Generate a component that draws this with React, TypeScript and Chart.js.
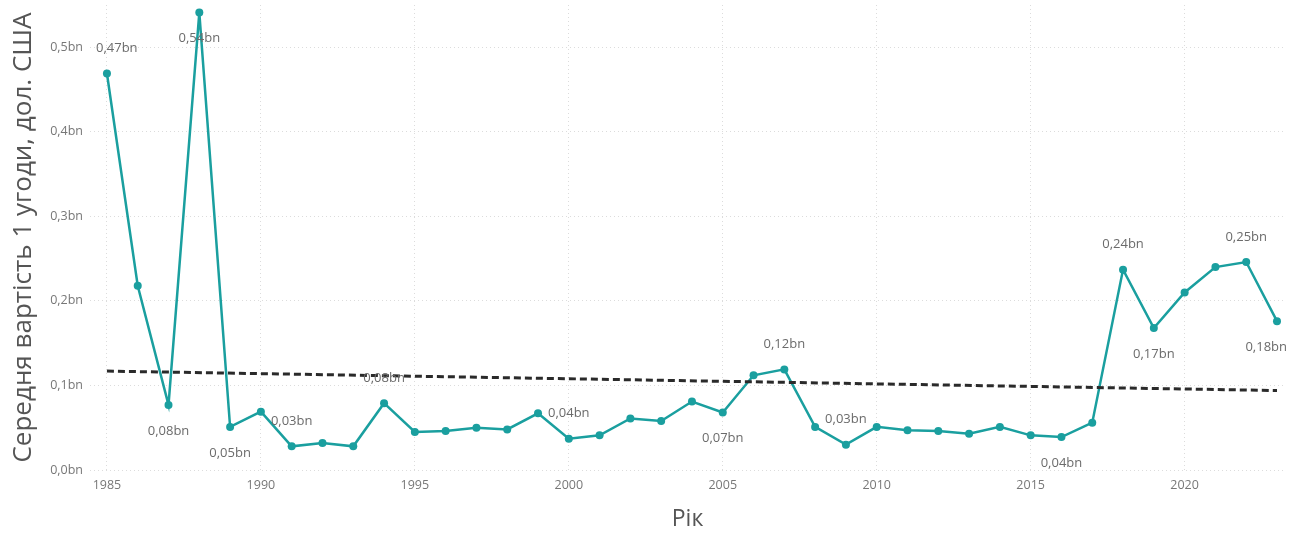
import React, { useEffect, useRef } from "react";
import { Chart, registerables } from "chart.js";

Chart.register(...registerables);

const years: number[] = [
  1985, 1986, 1987, 1988, 1989, 1990, 1991, 1992, 1993, 1994, 1995, 1996, 1997,
  1998, 1999, 2000, 2001, 2002, 2003, 2004, 2005, 2006, 2007, 2008, 2009, 2010,
  2011, 2012, 2013, 2014, 2015, 2016, 2017, 2018, 2019, 2020, 2021, 2022, 2023,
];

const avgDealValue: number[] = [
  0.469, 0.218, 0.077, 0.541, 0.051, 0.069, 0.028, 0.032, 0.028, 0.079, 0.045,
  0.046, 0.05, 0.048, 0.067, 0.037, 0.041, 0.061, 0.058, 0.081, 0.068, 0.112,
  0.119, 0.051, 0.03, 0.051, 0.047, 0.046, 0.043, 0.051, 0.041, 0.039, 0.056,
  0.237, 0.168, 0.21, 0.24, 0.246, 0.176,
];

// which points carry a data label: "a" = above, "b" = below, "" = none
const labelPlacement: string[] = [
  "a", "", "b", "b", "b", "", "a", "", "", "a", "", "", "",
  "", "", "a", "", "", "", "", "b", "", "a", "", "a", "",
  "", "", "", "", "", "b", "", "a", "b", "", "", "a", "b",
];

const trendYears: number[] = [1985, 2023];
const trendValues: number[] = [0.117, 0.094];

const xTicks: number[] = [1985, 1990, 1995, 2000, 2005, 2010, 2015, 2020];
const yTicks: number[] = [0, 0.1, 0.2, 0.3, 0.4, 0.5];

const yTitle = "Середня вартість 1 угоди, дол. США";
const xTitle = "Рік";

const fmt = (v: number, d: number) => v.toFixed(d).replace(".", ",") + "bn";

const FONT = "'Open Sans', 'Noto Sans', sans-serif";
const LINE = "#1a9f9f";

const labelPlugin = {
  id: "pointLabels",
  afterDatasetsDraw(chart: any) {
    const meta = chart.getDatasetMeta(0);
    const ctx = chart.ctx;
    ctx.save();
    ctx.font = `13px ${FONT}`;
    ctx.fillStyle = "#6b6b6b";
    ctx.textAlign = "center";
    ctx.textBaseline = "middle";
    meta.data.forEach((pt: any, i: number) => {
      const pl = labelPlacement[i];
      if (!pl) return;
      const txt = fmt(avgDealValue[i], 2);
      const w = ctx.measureText(txt).width;
      let x = pt.x;
      const minX = chart.chartArea.left + 6 + w / 2;
      const maxX = chart.width - 3 - w / 2;
      if (x < minX) x = minX;
      if (x > maxX) x = maxX;
      const y = pl === "a" ? pt.y - 25 : pt.y + 26;
      ctx.fillText(txt, x, y);
    });
    ctx.restore();
  },
};

export default function App() {
  const ref = useRef<HTMLCanvasElement | null>(null);

  useEffect(() => {
    if (!ref.current) return;
    const chart = new Chart(ref.current, {
      type: "line",
      data: {
        datasets: [
          {
            data: years.map((y, i) => ({ x: y, y: avgDealValue[i] })),
            borderColor: LINE,
            backgroundColor: LINE,
            borderWidth: 2.5,
            pointRadius: 4,
            pointBackgroundColor: LINE,
            pointBorderWidth: 0,
            tension: 0,
            clip: false as any,
            order: 1,
          },
          {
            data: trendYears.map((y, i) => ({ x: y, y: trendValues[i] })),
            borderColor: "#2a2a2a",
            borderWidth: 3,
            borderDash: [7, 4],
            pointRadius: 0,
            order: 0,
          },
        ],
      },
      options: {
        animation: false,
        responsive: false,
        maintainAspectRatio: false,
        layout: { padding: { top: 5, right: 5, left: 0, bottom: 0 } },
        plugins: { legend: { display: false }, tooltip: { enabled: false } },
        scales: {
          x: {
            type: "linear",
            min: 1984.45,
            max: 2023.26,
            afterBuildTicks: (s: any) => {
              s.ticks = xTicks.map((v) => ({ value: v }));
            },
            afterFit: (s: any) => {
              s.height = 64;
              s.paddingLeft = 0;
              s.paddingRight = 0;
            },
            ticks: {
              callback: (v: any) => String(v),
              font: { size: 12.5, family: FONT },
              color: "#777777",
              padding: 8,
              maxRotation: 0,
            },
            grid: { color: "#dcdcdc", lineWidth: 1, drawTicks: false },
            border: { display: false, dash: [1, 3] },
            title: {
              display: true,
              text: xTitle,
              font: { size: 23, family: FONT },
              color: "#555555",
              padding: { top: 0, bottom: 1 },
            },
          },
          y: {
            type: "linear",
            min: 0,
            max: 0.55,
            afterBuildTicks: (s: any) => {
              s.ticks = yTicks.map((v) => ({ value: v }));
            },
            afterFit: (s: any) => {
              s.width = 90;
              s.paddingTop = 0;
              s.paddingBottom = 0;
            },
            ticks: {
              callback: (v: any) => fmt(Number(v), 1),
              font: { size: 12.5, family: FONT },
              color: "#777777",
              padding: 7,
            },
            grid: { color: "#dcdcdc", lineWidth: 1, drawTicks: false },
            border: { display: false, dash: [1, 3] },
            title: {
              display: true,
              text: yTitle,
              font: { size: 26, family: FONT },
              color: "#555555",
              padding: { top: 8, bottom: 0 },
            },
          },
        },
      },
      plugins: [labelPlugin],
    });
    return () => chart.destroy();
  }, []);

  return (
    <div style={{ position: "fixed", left: 0, top: 0, width: 1290, height: 534, background: "#fff" }}>
      <canvas ref={ref} width={1290} height={534} style={{ width: 1290, height: 534, display: "block" }} />
    </div>
  );
}
